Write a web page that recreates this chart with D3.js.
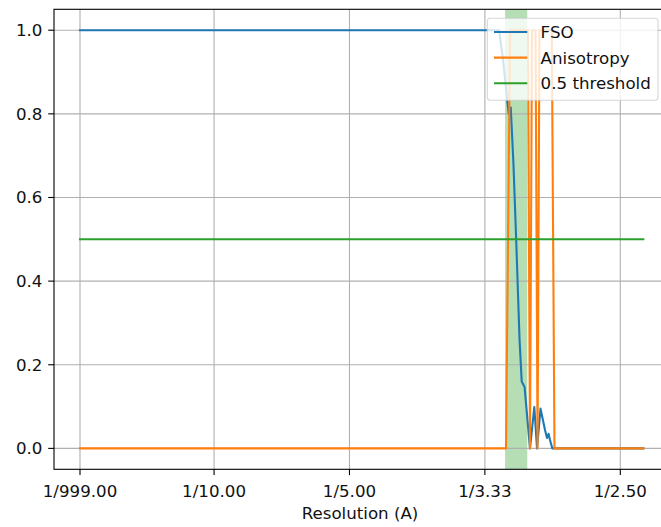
<!DOCTYPE html>
<html>
<head>
<meta charset="utf-8">
<script src="https://cdn.jsdelivr.net/npm/d3@7"></script>
<style>
  html, body { margin: 0; padding: 0; background: #fff; }
  svg { display: block; font-family: "DejaVu Sans", sans-serif; }
</style>
</head>
<body>
<svg id="chart" width="661" height="527"></svg>
<script>
// ---- data (spatial frequency 1/A) ----
const xTickValues = [1/999, 0.1, 0.2, 0.3, 0.4];
const xTickLabels = ["1/999.00", "1/10.00", "1/5.00", "1/3.33", "1/2.50"];
const yTickValues = [0.0, 0.2, 0.4, 0.6, 0.8, 1.0];

const fsoFreq = [0.001, 0.3104, 0.3134, 0.3166, 0.3176, 0.3191, 0.3211, 0.3231, 0.3256, 0.3272, 0.3293, 0.3333, 0.3365, 0.3385, 0.3411, 0.3444, 0.3459, 0.3470, 0.3481, 0.3498, 0.4170];
const fsoValue = [1.0, 1.0, 0.93, 0.83, 0.80, 0.815, 0.68, 0.50, 0.26, 0.16, 0.147, 0.0, 0.099, 0.0, 0.095, 0.044, 0.025, 0.035, 0.02, 0.0, 0.0];

const anisoFreq = [0.001, 0.3156, 0.3186, 0.3318, 0.3333, 0.3348, 0.3374, 0.3389, 0.3403, 0.3494, 0.3514, 0.4170];
const anisoValue = [0, 0, 1, 1, 0, 1, 1, 0, 1, 1, 0, 0];

const thresholdFreq = [0.001, 0.4170];
const thresholdValue = [0.5, 0.5];

const bandRange = [0.3149, 0.3313];

const seriesNames = ["FSO", "Anisotropy", "0.5 threshold"];
const seriesColors = ["#1f77b4", "#ff7f0e", "#2ca02c"];

// ---- layout ----
const svg = d3.select("#chart");
const L = 54, R = 666, T = 9.3, B = 469.3;
const fs = 16.67;
const textColor = "#111";

const x = d3.scaleLinear().domain([0.001, 0.4]).range([80, 620.3]);
const y = d3.scaleLinear().domain([-0.05, 1.05]).range([B, T]);

svg.append("rect").attr("width", 661).attr("height", 527).attr("fill", "#fff");

svg.append("defs").append("clipPath").attr("id", "clip")
  .append("rect").attr("x", L).attr("y", T).attr("width", R - L).attr("height", B - T);

const plot = svg.append("g").attr("clip-path", "url(#clip)");

// span
plot.append("rect")
  .attr("x", x(bandRange[0])).attr("y", T)
  .attr("width", x(bandRange[1]) - x(bandRange[0])).attr("height", B - T)
  .attr("fill", "#2ca02c").attr("fill-opacity", 0.35);

// grid
plot.append("g").selectAll("line").data(xTickValues).join("line")
  .attr("x1", d => x(d)).attr("x2", d => x(d)).attr("y1", T).attr("y2", B)
  .attr("stroke", "#b0b0b0").attr("stroke-width", 1.1);
plot.append("g").selectAll("line").data(yTickValues).join("line")
  .attr("x1", L).attr("x2", R).attr("y1", d => y(d)).attr("y2", d => y(d))
  .attr("stroke", "#b0b0b0").attr("stroke-width", 1.1);

// lines
const line = d3.line().x(d => x(d[0])).y(d => y(d[1]));
const series = [
  d3.zip(fsoFreq, fsoValue),
  d3.zip(anisoFreq, anisoValue),
  d3.zip(thresholdFreq, thresholdValue)
];
series.forEach((s, i) => {
  plot.append("path").datum(s).attr("d", line)
    .attr("fill", "none").attr("stroke", seriesColors[i])
    .attr("stroke-width", 2.1).attr("stroke-linejoin", "round").attr("stroke-linecap", "square");
});

// spines
svg.append("rect").attr("x", L).attr("y", T).attr("width", R - L).attr("height", B - T)
  .attr("fill", "none").attr("stroke", "#000").attr("stroke-width", 1.1);

// x axis ticks and labels
const xa = svg.append("g");
xa.selectAll("line").data(xTickValues).join("line")
  .attr("x1", d => x(d)).attr("x2", d => x(d)).attr("y1", B).attr("y2", B + 5.8)
  .attr("stroke", "#000").attr("stroke-width", 1.1);
xa.selectAll("text").data(xTickValues).join("text")
  .attr("x", d => x(d)).attr("y", 496.5)
  .attr("text-anchor", "middle").attr("font-size", fs).attr("fill", textColor)
  .text((d, i) => xTickLabels[i]);

svg.append("text").attr("x", (L + R) / 2).attr("y", 519)
  .attr("text-anchor", "middle").attr("font-size", fs).attr("fill", textColor)
  .text("Resolution (A)");

// y axis
const ya = svg.append("g");
ya.selectAll("line").data(yTickValues).join("line")
  .attr("x1", L - 5.8).attr("x2", L).attr("y1", d => y(d)).attr("y2", d => y(d))
  .attr("stroke", "#000").attr("stroke-width", 1.1);
ya.selectAll("text").data(yTickValues).join("text")
  .attr("x", 42.4).attr("y", d => y(d)).attr("dy", "0.36em")
  .attr("text-anchor", "end").attr("font-size", fs).attr("fill", textColor)
  .text(d => d3.format(".1f")(d));

// legend
const lg = svg.append("g");
const lx = 487.3, ly = 18.3, lw = 170.7, lh = 82;
lg.append("rect").attr("x", lx).attr("y", ly).attr("width", lw).attr("height", lh)
  .attr("rx", 3).attr("fill", "#fff").attr("fill-opacity", 0.8)
  .attr("stroke", "#cccccc").attr("stroke-opacity", 0.8).attr("stroke-width", 1.1);
const rowY = [32, 57.6, 83.2];
seriesNames.forEach((name, i) => {
  lg.append("line").attr("x1", lx + 6.7).attr("x2", lx + 6.7 + 33.3)
    .attr("y1", rowY[i]).attr("y2", rowY[i])
    .attr("stroke", seriesColors[i]).attr("stroke-width", 2.1);
  lg.append("text").attr("x", lx + 6.7 + 33.3 + 13.3).attr("y", rowY[i]).attr("dy", "0.36em")
    .attr("font-size", fs).attr("fill", textColor).text(name);
});
</script>
</body>
</html>
